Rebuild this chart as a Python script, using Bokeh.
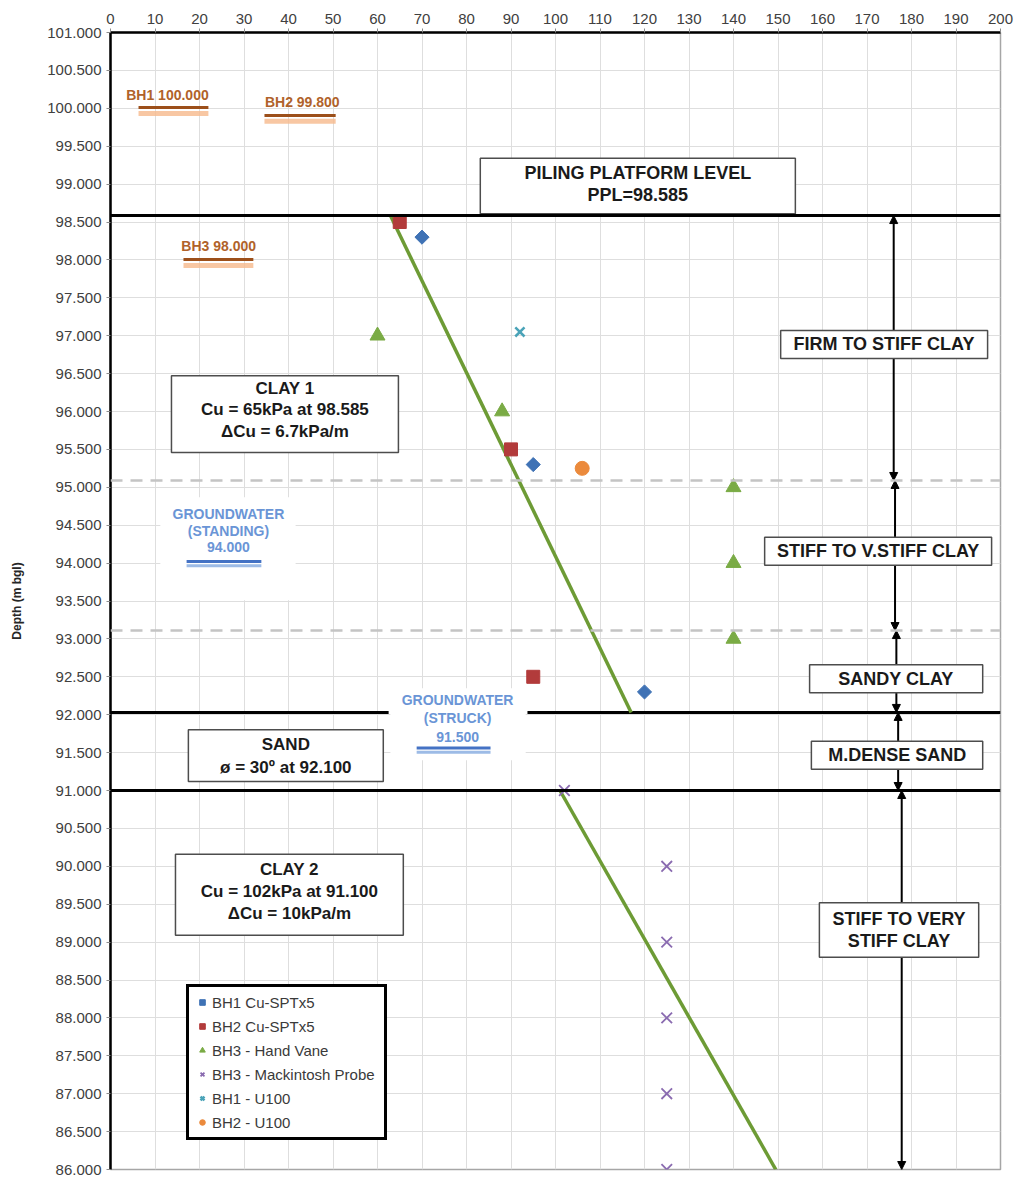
import math
from bokeh.plotting import figure
from bokeh.models import (Range1d, FixedTicker, NumeralTickFormatter, Legend, LegendItem,
                          Arrow, NormalHead, Span)
from bokeh.core.properties import value
from bokeh.embed import file_html
from bokeh.resources import INLINE

FONT = "Liberation Sans"

# ---------------- data ----------------
bh1_spt_cu = [70, 95, 120]
bh1_spt_depth = [98.3, 95.3, 92.3]
bh2_spt_cu = [65, 90, 95]
bh2_spt_depth = [98.5, 95.5, 92.5]
bh3_vane_cu = [60, 88, 140, 140, 140]
bh3_vane_depth = [97.0, 96.0, 95.0, 94.0, 93.0]
bh3_mack_cu = [102, 125, 125, 125, 125, 125]
bh3_mack_depth = [91.0, 90.0, 89.0, 88.0, 87.0, 86.0]
bh1_u100_cu = [92]
bh1_u100_depth = [97.05]
bh2_u100_cu = [106]
bh2_u100_depth = [95.25]

clay1_cu = [62.9, 117]
clay1_depth = [98.585, 92.03]
clay2_cu = [101, 149.5]
clay2_depth = [91.0, 86.0]

x_ticks = list(range(0, 201, 10))
y_ticks = [86 + 0.5 * i for i in range(31)]

ppl_level = 98.585
sand_top = 92.03
clay2_top = 91.0
dashed_levels = [95.09, 93.11]

legend_labels = ["BH1 Cu-SPTx5", "BH2 Cu-SPTx5", "BH3 - Hand Vane",
                 "BH3 - Mackintosh Probe", "BH1 - U100", "BH2 - U100"]

# ---------------- figure ----------------
p = figure(width=1016, height=1178, x_range=Range1d(0, 200), y_range=Range1d(86, 101),
           x_axis_location="above", output_backend="svg", toolbar_location=None,
           min_border_left=110, min_border_right=16, min_border_top=32, min_border_bottom=9)
p.background_fill_color = "white"
p.border_fill_color = "white"
p.outline_line_color = "#a6a6a6"
p.outline_line_width = 1.5

p.xaxis.ticker = FixedTicker(ticks=x_ticks)
p.yaxis.ticker = FixedTicker(ticks=y_ticks)
p.xgrid.ticker = FixedTicker(ticks=x_ticks)
p.ygrid.ticker = FixedTicker(ticks=y_ticks)
p.grid.grid_line_color = "#dedede"
p.grid.grid_line_width = 1
p.yaxis.formatter = NumeralTickFormatter(format="0.000")

for ax in (p.xaxis, p.yaxis):
    ax.axis_line_color = "black"
    ax.axis_line_width = 2.5
    ax.major_tick_line_color = "#8c8c8c"
    ax.major_tick_out = 4
    ax.major_tick_in = 0
    ax.minor_tick_line_color = None
    ax.major_label_text_font = FONT
    ax.major_label_text_font_size = "15px"
    ax.major_label_text_color = "#404040"
    ax.major_label_standoff = 5

p.yaxis.axis_label = "Depth (m bgl)"
p.yaxis.axis_label_text_font = FONT
p.yaxis.axis_label_text_font_size = "12px"
p.yaxis.axis_label_text_font_style = "bold"
p.yaxis.axis_label_text_color = "#262626"
p.yaxis.axis_label_standoff = 20

# ---------------- vertical stratum arrows (under boxes) ----------------
arrow_x = [176.0, 176.3, 176.6, 177.0, 177.8]
arrow_tops = [ppl_level, dashed_levels[0], dashed_levels[1], sand_top, clay2_top]
arrow_bots = [dashed_levels[0], dashed_levels[1], sand_top, clay2_top, 86.0]
for ax_, t, b in zip(arrow_x, arrow_tops, arrow_bots):
    p.add_layout(Arrow(x_start=ax_, y_start=b, x_end=ax_, y_end=t,
                       start=NormalHead(size=8, fill_color="black", line_color="black"),
                       end=NormalHead(size=8, fill_color="black", line_color="black"),
                       line_color="black", line_width=2, level="underlay"))

# ---------------- white backgrounds for groundwater labels ----------------
p.quad(left=[11.2, 62.9], right=[41.6, 93.3], top=[94.87, 92.35], bottom=[93.51, 91.40],
       fill_color="white", line_color=None)

# ---------------- stratum lines ----------------
p.add_layout(Span(location=ppl_level, dimension="width", line_color="black", line_width=3))
p.add_layout(Span(location=clay2_top, dimension="width", line_color="black", line_width=3))
p.segment(x0=[0, 93.7], x1=[62.5, 200], y0=[sand_top, sand_top], y1=[sand_top, sand_top],
          line_color="black", line_width=3)
for lv in dashed_levels:
    p.add_layout(Span(location=lv, dimension="width", line_color="#c4c4c4",
                      line_width=2.5, line_dash="12 8"))

# ---------------- design lines ----------------
p.line(clay1_cu, clay1_depth, line_color="#6d9b35", line_width=3.5)
p.line(clay2_cu, clay2_depth, line_color="#6d9b35", line_width=3.5)

# ---------------- data points ----------------
r1 = p.scatter(bh1_spt_cu, bh1_spt_depth, marker="square", angle=math.pi / 4, size=10,
               color="#3f72b5")
r2 = p.scatter(bh2_spt_cu, bh2_spt_depth, marker="square", size=13, color="#b23b3b")
r3 = p.scatter(bh3_vane_cu, bh3_vane_depth, marker="triangle", size=15, color="#7aab45")
r4 = p.scatter(bh3_mack_cu, bh3_mack_depth, marker="x", size=15, line_color="#8a6bb0",
               line_width=1.8)
r5 = p.scatter(bh1_u100_cu, bh1_u100_depth, marker="x", size=13, line_color="#4aa3b8",
               line_width=2.5)
r6 = p.scatter(bh2_u100_cu, bh2_u100_depth, marker="circle", size=14, color="#eb8a3c")

# ---------------- borehole level labels ----------------
bh_text = ["BH1 100.000", "BH2 99.800", "BH3 98.000"]
bh_text_x = [12.8, 43.1, 24.3]
bh_text_y = [100.17, 100.08, 98.18]
bh_line_x0 = [6.3, 34.6, 16.4]
bh_line_x1 = [22.0, 50.6, 32.1]
bh_line_y = [100.01, 99.905, 98.005]
bh_line2_y = [99.93, 99.83, 97.925]
p.segment(x0=bh_line_x0, x1=bh_line_x1, y0=bh_line2_y, y1=bh_line2_y,
          line_color="#f6b98c", line_width=5, line_alpha=0.8)
p.segment(x0=bh_line_x0, x1=bh_line_x1, y0=bh_line_y, y1=bh_line_y,
          line_color="#9c4f1a", line_width=3)
p.text(x=bh_text_x, y=bh_text_y, text=bh_text, text_font=value(FONT), text_font_style="bold",
       text_font_size="14px", text_color="#b0622a", text_align="center", text_baseline="middle")

# ---------------- groundwater labels ----------------
gw_text = ["GROUNDWATER", "(STANDING)", "94.000", "GROUNDWATER", "(STRUCK)", "91.500"]
gw_x = [26.5, 26.5, 26.5, 78.0, 78.0, 78.0]
gw_y = [94.65, 94.43, 94.21, 92.19, 91.95, 91.71]
p.text(x=gw_x, y=gw_y, text=gw_text, text_font=value(FONT), text_font_style="bold",
       text_font_size="14px", text_color="#6a95d6", text_align="center", text_baseline="middle")
p.segment(x0=[17.1, 68.8], x1=[33.9, 85.4], y0=[93.965, 91.505], y1=[93.965, 91.505],
          line_color="#9dbbe6", line_width=3)
p.segment(x0=[17.1, 68.8], x1=[33.9, 85.4], y0=[94.02, 91.56], y1=[94.02, 91.56],
          line_color="#4472c4", line_width=3)

# ---------------- text boxes ----------------
box_left = [83.1, 150.6, 13.7, 147.0, 157.1, 17.5, 157.5, 14.6, 159.3]
box_right = [153.9, 197.1, 64.7, 198.0, 196.0, 61.3, 196.0, 65.8, 195.1]
box_top = [99.34, 97.07, 96.47, 94.34, 92.66, 91.80, 91.65, 90.16, 89.52]
box_bot = [98.61, 96.70, 95.46, 93.97, 92.29, 91.12, 91.28, 89.09, 88.80]
p.quad(left=box_left, right=box_right, top=box_top, bottom=box_bot,
       fill_color="white", line_color="#4d4d4d", line_width=1.5)

big_text = ["PILING PLATFORM LEVEL", "PPL=98.585", "FIRM TO STIFF CLAY",
            "STIFF TO V.STIFF CLAY", "SANDY CLAY", "M.DENSE SAND",
            "STIFF TO VERY", "STIFF CLAY"]
big_x = [118.5, 118.5, 173.8, 172.5, 176.5, 176.8, 177.2, 177.2]
big_y = [99.15, 98.86, 96.885, 94.155, 92.475, 91.465, 89.31, 89.01]
p.text(x=big_x, y=big_y, text=big_text, text_font=value(FONT), text_font_style="bold",
       text_font_size="18px", text_color="#1a1a1a", text_align="center", text_baseline="middle")

soil_text = ["CLAY 1", "Cu = 65kPa at 98.585", "\u0394Cu = 6.7kPa/m",
             "SAND", "\u00f8 = 30\u00ba at 92.100",
             "CLAY 2", "Cu = 102kPa at 91.100", "\u0394Cu = 10kPa/m"]
soil_x = [39.2, 39.2, 39.2, 39.4, 39.4, 40.2, 40.2, 40.2]
soil_y = [96.30, 96.03, 95.74, 91.61, 91.30, 89.96, 89.67, 89.38]
p.text(x=soil_x, y=soil_y, text=soil_text, text_font=value(FONT), text_font_style="bold",
       text_font_size="17px", text_color="#1a1a1a", text_align="center", text_baseline="middle")

# ---------------- legend ----------------
legend = Legend(items=[LegendItem(label=lbl, renderers=[r])
                       for lbl, r in zip(legend_labels, [r1, r2, r3, r4, r5, r6])],
                location=(76, 29))
legend.border_line_color = "black"
legend.border_line_alpha = 1
legend.border_line_width = 3.5
legend.background_fill_color = "white"
legend.background_fill_alpha = 1
legend.label_text_font = FONT
legend.label_text_font_size = "15px"
legend.label_text_color = "#3a3a3a"
legend.glyph_width = 14
legend.glyph_height = 18
legend.label_height = 18
legend.label_width = 166
legend.label_standoff = 3
legend.spacing = 6
legend.padding = 6
legend.margin = 0
p.add_layout(legend)

open("out.html", "w").write(file_html(p, INLINE))
